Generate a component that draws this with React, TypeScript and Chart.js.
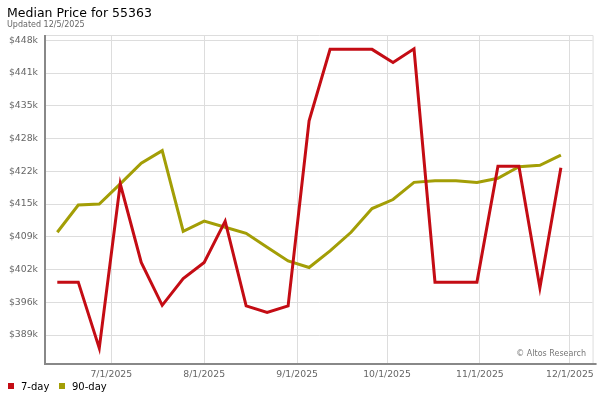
import { useEffect, useRef } from "react";
import { Chart, registerables } from "chart.js";
Chart.register(...registerables);

const titleText = "Median Price for 55363";
const subtitleText = "Updated 12/5/2025";
const creditText = "© Altos Research";

const dates = [
  "2025-06-13", "2025-06-20", "2025-06-27", "2025-07-04", "2025-07-11", "2025-07-18",
  "2025-07-25", "2025-08-01", "2025-08-08", "2025-08-15", "2025-08-22", "2025-08-29",
  "2025-09-05", "2025-09-12", "2025-09-19", "2025-09-26", "2025-10-03", "2025-10-10",
  "2025-10-17", "2025-10-24", "2025-10-31", "2025-11-07", "2025-11-14", "2025-11-21",
  "2025-11-28",
];

const sevenDay = [
  399500, 399500, 386400, 419000, 403400, 394900, 400200, 403400, 411600, 394800,
  393500, 394800, 431500, 445700, 445700, 445700, 443100, 445800, 399500, 399500,
  399500, 422500, 422500, 398400, 422200,
];

const ninetyDay = [
  409400, 414800, 415000, 419000, 423100, 425600, 409600, 411600, 410400, 409200,
  406400, 403700, 402400, 405700, 409400, 414100, 415900, 419300, 419600, 419600,
  419300, 420100, 422400, 422700, 424700,
];

const seriesNames = ["7-day", "90-day"];
const seriesColors = ["#c40c14", "#a39e06"];

const xTickDates = ["2025-07-01", "2025-08-01", "2025-09-01", "2025-10-01", "2025-11-01", "2025-12-01"];
const xTickLabels = ["7/1/2025", "8/1/2025", "9/1/2025", "10/1/2025", "11/1/2025", "12/1/2025"];
const xMinDate = 8.23; // days after 2025-06-01
const xMaxDate = 190.57;

const yTicks = [389000, 395500, 402000, 408500, 415000, 421500, 428000, 434500, 441000, 447500];
const yTickLabels = ["$389k", "$396k", "$402k", "$409k", "$415k", "$422k", "$428k", "$435k", "$441k", "$448k"];
const yMin = 383450;
const yMax = 448550;

const FONT = "'DejaVu Sans', sans-serif";

function dayNum(s: string): number {
  const [y, m, d] = s.split("-").map(Number);
  return (Date.UTC(y, m - 1, d) - Date.UTC(2025, 5, 1)) / 86400000;
}

const decor = {
  id: "decor",
  beforeDatasetsDraw(chart: any) {
    const { ctx, chartArea } = chart;
    const { left, right, top, bottom } = chartArea;
    ctx.save();
    // light border top & right
    ctx.strokeStyle = "#dddddd";
    ctx.lineWidth = 1;
    ctx.beginPath();
    ctx.moveTo(left, top + 0.5);
    ctx.lineTo(right + 0.5, top + 0.5);
    ctx.lineTo(right + 0.5, bottom);
    ctx.stroke();
    ctx.restore();
  },
  afterDraw(chart: any) {
    const { ctx, chartArea } = chart;
    const { left, right, top, bottom } = chartArea;
    ctx.save();
    // axis lines
    ctx.fillStyle = "#888888";
    ctx.fillRect(left - 2, top, 2, bottom - top + 2);
    ctx.fillRect(left, bottom, right - left + 4, 2);

    // title & subtitle
    ctx.fillStyle = "#000000";
    ctx.textBaseline = "alphabetic";
    ctx.textAlign = "left";
    ctx.font = `12.5px ${FONT}`;
    ctx.fillText(titleText, 7, 17);
    ctx.fillStyle = "#666666";
    ctx.font = `8px ${FONT}`;
    ctx.fillText(subtitleText, 7, 27);

    // credit
    ctx.fillStyle = "#777777";
    ctx.font = `8px ${FONT}`;
    ctx.textAlign = "right";
    ctx.fillText(creditText, 586, 356);

    // legend
    ctx.textAlign = "left";
    ctx.font = `10px ${FONT}`;
    const items = [
      { x: 8, tx: 21 },
      { x: 59, tx: 72 },
    ];
    items.forEach((it, i) => {
      ctx.fillStyle = seriesColors[i];
      ctx.fillRect(it.x, 383, 6, 6);
      ctx.fillStyle = "#000000";
      ctx.fillText(seriesNames[i], it.tx, 389.5);
    });
    ctx.restore();
  },
};

export default function App() {
  const ref = useRef<HTMLCanvasElement | null>(null);

  useEffect(() => {
    if (!ref.current) return;
    const xs = dates.map(dayNum);
    const chart = new Chart(ref.current, {
      type: "line",
      data: {
        datasets: [
          {
            label: seriesNames[0],
            data: sevenDay.map((v, i) => ({ x: xs[i], y: v })),
            borderColor: seriesColors[0],
            backgroundColor: seriesColors[0],
            borderWidth: 3,
            pointRadius: 0,
            tension: 0,
            fill: false,
          },
          {
            label: seriesNames[1],
            data: ninetyDay.map((v, i) => ({ x: xs[i], y: v })),
            borderColor: seriesColors[1],
            backgroundColor: seriesColors[1],
            borderWidth: 3,
            pointRadius: 0,
            tension: 0,
            fill: false,
          },
        ],
      },
      options: {
        animation: false,
        responsive: false,
        devicePixelRatio: 1,
        layout: { padding: { top: 35, right: 7, left: 0, bottom: 0 } },
        plugins: {
          legend: { display: false },
          title: { display: false },
          tooltip: { enabled: false },
        },
        scales: {
          x: {
            type: "linear",
            min: xMinDate,
            max: xMaxDate,
            afterFit(scale: any) {
              scale.height = 37;
            },
            afterBuildTicks(scale: any) {
              scale.ticks = xTickDates.map((d) => ({ value: dayNum(d) }));
            },
            ticks: {
              autoSkip: false,
              maxRotation: 0,
              padding: 6,
              color: "#666666",
              font: { family: FONT, size: 9.3 },
              callback: (_v: any, i: number) => xTickLabels[i],
            },
            grid: { color: "#dddddd", lineWidth: 1, drawTicks: false },
            border: { display: false },
          },
          y: {
            type: "linear",
            min: yMin,
            max: yMax,
            afterFit(scale: any) {
              scale.width = 46;
            },
            afterBuildTicks(scale: any) {
              scale.ticks = yTicks.map((v) => ({ value: v }));
            },
            ticks: {
              autoSkip: false,
              padding: 8,
              color: "#666666",
              font: { family: FONT, size: 9.3 },
              callback: (_v: any, i: number) => yTickLabels[i],
            },
            grid: { color: "#dddddd", lineWidth: 1, drawTicks: false },
            border: { display: false },
          },
        },
      },
      plugins: [decor],
    });
    return () => chart.destroy();
  }, []);

  return (
    <div style={{ position: "fixed", left: 0, top: 0, width: 600, height: 400, background: "#fff" }}>
      <canvas ref={ref} width={600} height={400} style={{ width: 600, height: 400, display: "block" }} />
    </div>
  );
}
